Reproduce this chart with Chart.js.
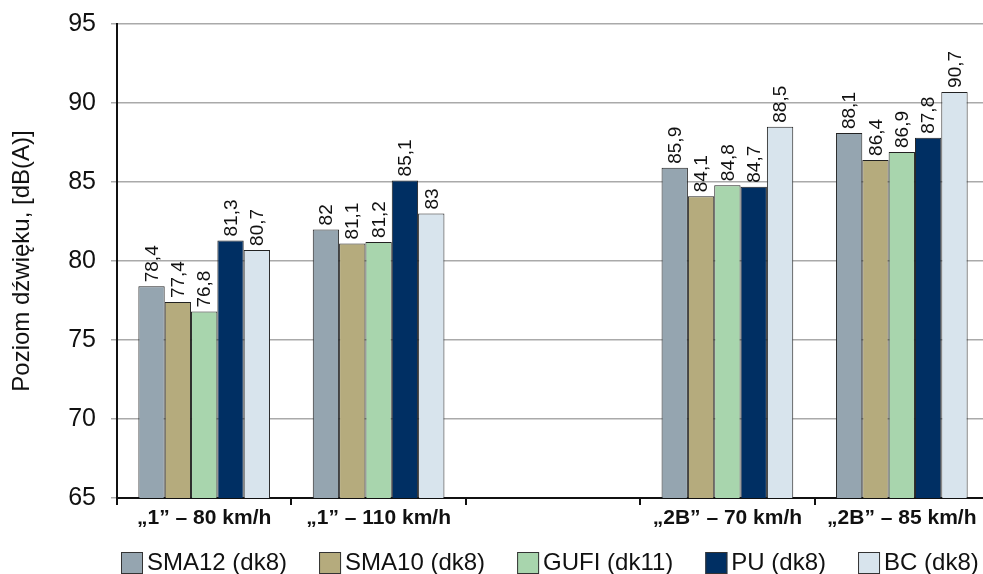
<!DOCTYPE html>
<html>
<head>
<meta charset="utf-8">
<script src="https://cdn.jsdelivr.net/npm/chart.js@4/dist/chart.umd.min.js"></script>
<style>
  html, body { margin: 0; padding: 0; background: #fff; overflow: hidden; }
  #wrap { width: 992px; height: 574px; }
</style>
</head>
<body>
<div id="wrap"><canvas id="noiseChart"></canvas></div>
<script>
// ====== DANE ======
const categories = ["\u201e1\u201d \u2013 80 km/h", "\u201e1\u201d \u2013 110 km/h", "", "\u201e2B\u201d \u2013 70 km/h", "\u201e2B\u201d \u2013 85 km/h"];
const sma12 = [78.4, 82, null, 85.9, 88.1];
const sma10 = [77.4, 81.1, null, 84.1, 86.4];
const gufi = [76.8, 81.2, null, 84.8, 86.9];
const pu = [81.3, 85.1, null, 84.7, 87.8];
const bc = [80.7, 83, null, 88.5, 90.7];
const seriesNames = ["SMA12 (dk8)", "SMA10 (dk8)", "GUFI (dk11)", "PU (dk8)", "BC (dk8)"];
const seriesColors = ["#95a5b0", "#b5ab7d", "#a8d5ad", "#002f63", "#d8e4ed"];
const yMin = 65, yMax = 95, yStep = 5;

const FONT = "'Liberation Sans', Arial, sans-serif";

// ====== ETYKIETY NAD SŁUPKAMI ======
const barLabels = {
  id: "barLabels",
  afterDatasetsDraw(chart) {
    const ctx = chart.ctx;
    ctx.save();
    ctx.font = "19px " + FONT;
    ctx.fillStyle = "#111";
    ctx.textAlign = "left";
    ctx.textBaseline = "middle";
    chart.data.datasets.forEach((ds, i) => {
      chart.getDatasetMeta(i).data.forEach((bar, j) => {
        const v = ds.data[j];
        if (v === null) return;
        ctx.save();
        ctx.translate(bar.x + 1, bar.y - 4);
        ctx.rotate(-Math.PI / 2);
        ctx.fillText(String(v).replace(".", ","), 0, 0);
        ctx.restore();
      });
    });
    ctx.restore();
  }
};

// ====== LEGENDA NA DOLE ======
const bottomLegend = {
  id: "bottomLegend",
  afterDraw(chart) {
    const ctx = chart.ctx;
    const box = 22;
    const top = chart.chartArea.bottom + 54;
    let x = 121;
    ctx.save();
    ctx.font = "24px " + FONT;
    ctx.textAlign = "left";
    ctx.textBaseline = "middle";
    chart.data.datasets.forEach(ds => {
      ctx.fillStyle = ds.backgroundColor;
      ctx.fillRect(x, top, box, box);
      ctx.strokeStyle = "#333";
      ctx.lineWidth = 1;
      ctx.strokeRect(x + 0.5, top + 0.5, box - 1, box - 1);
      ctx.fillStyle = "#111";
      ctx.fillText(ds.label, x + box + 4, top + 11);
      x += box + 4 + ctx.measureText(ds.label).width + 32;
    });
    ctx.restore();
  }
};

const allSeries = [sma12, sma10, gufi, pu, bc];

new Chart(document.getElementById("noiseChart"), {
  type: "bar",
  data: {
    labels: categories,
    datasets: allSeries.map((d, i) => ({
      label: seriesNames[i],
      data: d,
      backgroundColor: seriesColors[i],
      borderColor: "#222",
      borderWidth: 1,
      categoryPercentage: 0.755,
      barPercentage: 1
    }))
  },
  options: {
    responsive: true,
    maintainAspectRatio: false,
    animation: false,
    layout: { padding: { top: 24, left: 0, right: 3, bottom: 0 } },
    plugins: {
      tooltip: { enabled: false },
      legend: { display: false }
    },
    scales: {
      x: {
        afterFit: s => { s.height = 76; },
        border: { color: "#111", width: 2 },
        grid: { drawOnChartArea: false, drawTicks: true, tickLength: 7, color: "#111", lineWidth: 2, offset: true },
        ticks: { font: { family: FONT, size: 21, weight: "bold" }, color: "#111", padding: 1, maxRotation: 0, autoSkip: false }
      },
      y: {
        min: yMin,
        max: yMax,
        afterFit: s => { s.width = 117; s.paddingTop = 0; s.paddingBottom = 0; },
        border: { color: "#111", width: 2 },
        grid: { color: "#aaa", lineWidth: 1.5, tickLength: 6 },
        ticks: { stepSize: yStep, font: { family: FONT, size: 25 }, color: "#111", padding: 15 },
        title: { display: true, text: "Poziom dźwięku, [dB(A)]", font: { family: FONT, size: 24 }, color: "#111", padding: { top: 8, bottom: 0 } }
      }
    }
  },
  plugins: [barLabels, bottomLegend]
});
</script>
</body>
</html>
